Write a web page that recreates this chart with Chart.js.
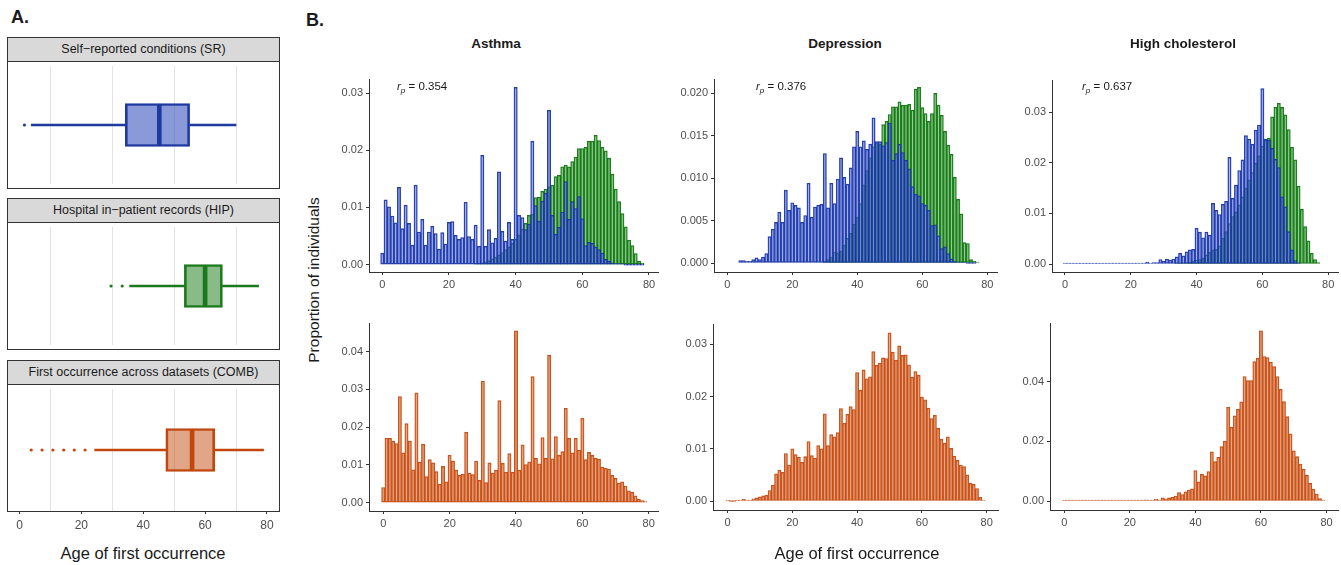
<!DOCTYPE html>
<html>
<head>
<meta charset="utf-8">
<title>Age of first occurrence</title>
<script src="https://cdn.jsdelivr.net/npm/chart.js@4.4.1/dist/chart.umd.min.js"></script>
<style>
  body { margin: 0; background: #fff; font-family: "Liberation Sans", Arial, sans-serif; color: #1a1a1a; }
  #page { position: relative; width: 1341px; height: 565px; overflow: hidden; }
  .txt { position: absolute; white-space: nowrap; line-height: 1; }
  canvas { position: absolute; }
  .strip { position: absolute; box-sizing: border-box; background: #d9d9d9; border: 1px solid #333;
           font-size: 12.5px; text-align: center; line-height: 22px; color: #1a1a1a; }
  .frame { position: absolute; box-sizing: border-box; border: 1px solid #333; pointer-events: none; }
</style>
</head>
<body>
<div id="page"></div>
<script>
// ages (one bin per year)
const ages = [
  0, 1, 2, 3, 4, 5, 6, 7, 8, 9, 10, 11, 12, 13, 14, 15, 16, 17, 18, 19,
  20, 21, 22, 23, 24, 25, 26, 27, 28, 29, 30, 31, 32, 33, 34, 35, 36, 37, 38, 39,
  40, 41, 42, 43, 44, 45, 46, 47, 48, 49, 50, 51, 52, 53, 54, 55, 56, 57, 58, 59,
  60, 61, 62, 63, 64, 65, 66, 67, 68, 69, 70, 71, 72, 73, 74, 75, 76, 77, 78, 79
];

// Asthma
const asthmaSR = [
  0.0020, 0.0113, 0.0101, 0.0085, 0.0073, 0.0135, 0.0063, 0.0104, 0.0072, 0.0034,
  0.0139, 0.0057, 0.0079, 0.0034, 0.0057, 0.0067, 0.0054, 0.0027, 0.0056, 0.0036,
  0.0074, 0.0075, 0.0051, 0.0044, 0.0047, 0.0109, 0.0049, 0.0044, 0.0069, 0.0032,
  0.0191, 0.0032, 0.0061, 0.0038, 0.0046, 0.0162, 0.0058, 0.0041, 0.0074, 0.0044,
  0.0310, 0.0086, 0.0082, 0.0061, 0.0071, 0.0216, 0.0103, 0.0076, 0.0111, 0.0125,
  0.0270, 0.0086, 0.0053, 0.0065, 0.0092, 0.0145, 0.0079, 0.0110, 0.0098, 0.0119,
  0.0080, 0.0033, 0.0039, 0.0037, 0.0031, 0.0026, 0.0020, 0.0009, 0.0006, 0.0003,
  0.0001, 0.0001, 0.0001, 0.0000, 0.0000, 0.0000, 0.0000, 0.0000, 0.0000, null
];
const asthmaHIP = [
  null, null, null, null, null, null, null, null, null, null,
  null, null, null, null, null, null, null, null, null, null,
  null, null, null, null, null, null, null, null, 0.0001, 0.0002,
  0.0003, 0.0005, 0.0007, 0.0010, 0.0013, 0.0017, 0.0021, 0.0026, 0.0031, 0.0037,
  0.0044, 0.0052, 0.0062, 0.0072, 0.0086, 0.0088, 0.0117, 0.0118, 0.0128, 0.0132,
  0.0136, 0.0139, 0.0154, 0.0156, 0.0171, 0.0174, 0.0171, 0.0180, 0.0188, 0.0203,
  0.0203, 0.0205, 0.0216, 0.0216, 0.0226, 0.0217, 0.0205, 0.0199, 0.0186, 0.0158,
  0.0132, 0.0110, 0.0089, 0.0066, 0.0043, 0.0033, 0.0019, 0.0006, 0.0002, null
];
const asthmaCOMB = [
  0.0040, 0.0171, 0.0170, 0.0163, 0.0156, 0.0281, 0.0132, 0.0209, 0.0163, 0.0087,
  0.0291, 0.0107, 0.0155, 0.0069, 0.0114, 0.0105, 0.0082, 0.0049, 0.0096, 0.0055,
  0.0126, 0.0110, 0.0086, 0.0072, 0.0075, 0.0187, 0.0078, 0.0074, 0.0110, 0.0059,
  0.0322, 0.0053, 0.0105, 0.0078, 0.0086, 0.0270, 0.0104, 0.0081, 0.0130, 0.0080,
  0.0455, 0.0086, 0.0153, 0.0101, 0.0108, 0.0334, 0.0117, 0.0103, 0.0172, 0.0117,
  0.0390, 0.0116, 0.0175, 0.0125, 0.0135, 0.0250, 0.0170, 0.0132, 0.0170, 0.0139,
  0.0224, 0.0114, 0.0133, 0.0125, 0.0117, 0.0115, 0.0094, 0.0091, 0.0089, 0.0072,
  0.0064, 0.0052, 0.0055, 0.0044, 0.0031, 0.0027, 0.0018, 0.0009, 0.0005, 0.0002
];

// Depression
const depressionSR = [
  null, null, null, null, 0.0003, 0.0003, 0.0002, 0.0002, 0.0004, 0.0006,
  0.0004, 0.0007, 0.0011, 0.0031, 0.0040, 0.0048, 0.0060, 0.0048, 0.0086, 0.0062,
  0.0071, 0.0068, 0.0065, 0.0048, 0.0056, 0.0094, 0.0054, 0.0066, 0.0068, 0.0069,
  0.0129, 0.0065, 0.0094, 0.0070, 0.0099, 0.0124, 0.0101, 0.0093, 0.0112, 0.0137,
  0.0155, 0.0137, 0.0144, 0.0134, 0.0140, 0.0171, 0.0143, 0.0143, 0.0138, 0.0142,
  0.0165, 0.0121, 0.0129, 0.0140, 0.0130, 0.0121, 0.0111, 0.0090, 0.0081, 0.0079,
  0.0070, 0.0068, 0.0062, 0.0044, 0.0045, 0.0032, 0.0017, 0.0019, 0.0011, 0.0005,
  0.0002, 0.0001, 0.0001, 0.0001, 0.0000, 0.0000, 0.0000, null, null, null
];
const depressionHIP = [
  null, null, null, null, null, null, null, null, null, null,
  null, null, null, null, null, null, null, null, null, null,
  null, null, null, null, null, null, null, null, null, null,
  0.0002, 0.0004, 0.0007, 0.0013, 0.0012, 0.0014, 0.0021, 0.0029, 0.0035, 0.0046,
  0.0054, 0.0070, 0.0092, 0.0109, 0.0124, 0.0137, 0.0142, 0.0140, 0.0163, 0.0167,
  0.0175, 0.0184, 0.0184, 0.0190, 0.0186, 0.0186, 0.0187, 0.0180, 0.0205, 0.0207,
  0.0183, 0.0176, 0.0167, 0.0176, 0.0200, 0.0186, 0.0174, 0.0155, 0.0139, 0.0128,
  0.0101, 0.0075, 0.0058, 0.0024, 0.0023, 0.0004, 0.0002, 0.0001, null, null
];
const depressionCOMB = [
  0.0001, 0.0000, 0.0000, 0.0001, 0.0001, 0.0003, 0.0002, 0.0002, 0.0004, 0.0006,
  0.0008, 0.0010, 0.0011, 0.0020, 0.0030, 0.0052, 0.0059, 0.0055, 0.0091, 0.0069,
  0.0100, 0.0089, 0.0084, 0.0074, 0.0085, 0.0114, 0.0087, 0.0082, 0.0106, 0.0100,
  0.0167, 0.0106, 0.0127, 0.0123, 0.0131, 0.0177, 0.0149, 0.0166, 0.0181, 0.0175,
  0.0246, 0.0212, 0.0251, 0.0234, 0.0238, 0.0286, 0.0260, 0.0264, 0.0274, 0.0273,
  0.0322, 0.0285, 0.0270, 0.0297, 0.0279, 0.0280, 0.0261, 0.0237, 0.0248, 0.0241,
  0.0199, 0.0194, 0.0178, 0.0158, 0.0164, 0.0139, 0.0118, 0.0111, 0.0123, 0.0101,
  0.0086, 0.0078, 0.0069, 0.0066, 0.0050, 0.0034, 0.0032, 0.0024, 0.0007, 0.0002
];

// High cholesterol
const cholSR = [
  0.0001, 0.0001, 0.0001, 0.0001, 0.0001, 0.0001, 0.0001, 0.0001, 0.0001, 0.0001,
  0.0001, 0.0001, 0.0001, 0.0001, 0.0001, 0.0001, 0.0001, 0.0001, 0.0001, 0.0001,
  0.0001, 0.0002, 0.0002, 0.0002, 0.0001, 0.0004, 0.0002, 0.0003, 0.0003, 0.0009,
  0.0006, 0.0010, 0.0008, 0.0010, 0.0014, 0.0021, 0.0016, 0.0024, 0.0028, 0.0029,
  0.0071, 0.0063, 0.0052, 0.0063, 0.0057, 0.0120, 0.0106, 0.0098, 0.0118, 0.0124,
  0.0211, 0.0130, 0.0156, 0.0185, 0.0206, 0.0254, 0.0247, 0.0237, 0.0265, 0.0275,
  0.0347, 0.0247, 0.0245, 0.0229, 0.0207, 0.0191, 0.0133, 0.0113, 0.0064, 0.0028,
  0.0007, 0.0002, null, null, null, null, null, null, null, null
];
const cholHIP = [
  null, null, null, null, null, null, null, null, null, null,
  null, null, null, null, null, null, null, null, null, null,
  null, null, null, null, null, null, null, null, null, null,
  null, null, null, null, 0.0001, 0.0001, 0.0002, 0.0003, 0.0004, 0.0006,
  0.0008, 0.0009, 0.0011, 0.0018, 0.0023, 0.0028, 0.0029, 0.0036, 0.0051, 0.0064,
  0.0080, 0.0094, 0.0103, 0.0117, 0.0133, 0.0150, 0.0166, 0.0181, 0.0199, 0.0214,
  0.0233, 0.0245, 0.0249, 0.0291, 0.0310, 0.0318, 0.0310, 0.0295, 0.0266, 0.0231,
  0.0206, 0.0154, 0.0108, 0.0074, 0.0046, 0.0021, 0.0009, 0.0003, null, null
];
const cholCOMB = [
  0.0001, 0.0001, 0.0001, 0.0001, 0.0001, 0.0001, 0.0001, 0.0001, 0.0001, 0.0001,
  0.0001, 0.0001, 0.0001, 0.0001, 0.0001, 0.0001, 0.0001, 0.0001, 0.0001, 0.0001,
  0.0002, 0.0002, 0.0002, 0.0002, 0.0003, 0.0004, 0.0003, 0.0003, 0.0006, 0.0002,
  0.0011, 0.0007, 0.0011, 0.0012, 0.0017, 0.0028, 0.0022, 0.0031, 0.0037, 0.0041,
  0.0102, 0.0064, 0.0089, 0.0084, 0.0099, 0.0165, 0.0132, 0.0146, 0.0182, 0.0201,
  0.0314, 0.0247, 0.0285, 0.0307, 0.0332, 0.0417, 0.0403, 0.0403, 0.0467, 0.0478,
  0.0570, 0.0484, 0.0480, 0.0465, 0.0450, 0.0417, 0.0374, 0.0333, 0.0283, 0.0225,
  0.0168, 0.0149, 0.0124, 0.0107, 0.0086, 0.0059, 0.0040, 0.0023, 0.0008, 0.0003
];

const diseases = ['Asthma', 'Depression', 'High cholesterol'];
const correlations = ['0.354', '0.376', '0.637'];
const histXTicks = [0, 20, 40, 60, 80];

// panel A boxplots
const boxGroups = ['Self\u2212reported conditions (SR)', 'Hospital in\u2212patient records (HIP)', 'First occurrence across datasets (COMB)'];
const boxLow = [3.8, 35.6, 24.3];
const boxQ1 = [34.2, 53.3, 47.3];
const boxMedian = [45.2, 60.0, 55.8];
const boxQ3 = [55.0, 65.6, 63.1];
const boxHigh = [70.0, 77.3, 78.9];
const boxOutliers = [[1.6], [29.6, 33.2], [3.8, 7.3, 10.8, 14.3, 17.7, 21.2]];
const boxXTicks = [0, 10, 20, 30, 40, 50, 60, 70, 80];

const SR = {line: 'rgba(25, 50, 160, 0.95)', fill: 'rgba(60, 90, 215, 0.45)', box: 'rgba(30, 60, 180, 0.52)', solid: '#1f3a9e'};
const HIP = {line: 'rgba(20, 110, 20, 0.95)', fill: 'rgba(40, 160, 40, 0.5)', box: 'rgba(20, 120, 20, 0.5)', solid: '#1b7a1b'};
const COMB = {line: 'rgba(195, 70, 12, 0.95)', fill: 'rgba(215, 110, 55, 0.6)', box: 'rgba(195, 75, 15, 0.5)', solid: '#c2470e'};
const boxStyles = [SR, HIP, COMB];

const page = document.getElementById('page');

function addText(html, x, y, size, css) {
  const d = document.createElement('div');
  d.className = 'txt';
  d.innerHTML = html;
  d.style.left = x + 'px';
  d.style.top = y + 'px';
  d.style.fontSize = size + 'px';
  Object.assign(d.style, css || {});
  page.appendChild(d);
  return d;
}

function addCanvas(left, top, w, h) {
  const c = document.createElement('canvas');
  c.width = w;
  c.height = h;
  c.style.left = left + 'px';
  c.style.top = top + 'px';
  c.style.width = w + 'px';
  c.style.height = h + 'px';
  page.appendChild(c);
  return c;
}

// ---------- panel B: histograms ----------
const PAD_T = 10, PAD_R = 12, AXIS_W = 44, AXIS_H = 24;

function histogram(p) {
  const canvas = addCanvas(p.left - AXIS_W, p.top - PAD_T,
    p.right - p.left + AXIS_W + PAD_R, p.bottom - p.top + PAD_T + AXIS_H);
  new Chart(canvas, {
    type: 'bar',
    data: {
      datasets: p.series.map(s => ({
        data: ages.map((a, i) => ({x: a, y: s.values[i]})).filter(d => d.y !== null),
        backgroundColor: s.style.fill,
        borderColor: s.style.line,
        borderWidth: 0.8,
        borderSkipped: false,
        minBarLength: 1,
        grouped: false,
        barPercentage: 1,
        categoryPercentage: 1
      }))
    },
    options: {
      responsive: false,
      animation: false,
      devicePixelRatio: 1,
      layout: {padding: {top: PAD_T, right: PAD_R, left: 0, bottom: 0}},
      plugins: {legend: {display: false}, tooltip: {enabled: false}},
      scales: {
        x: {
          type: 'linear', min: p.xMin, max: p.xMax, offset: false,
          afterBuildTicks: s => { s.ticks = histXTicks.map(v => ({value: v})); },
          afterFit: s => { s.height = AXIS_H; },
          ticks: {color: '#4d4d4d', font: {size: 11}, padding: 3, maxRotation: 0, autoSkip: false},
          grid: {offset: false, drawOnChartArea: false, tickLength: 3, tickColor: '#333'},
          border: {color: '#333', width: 1}
        },
        y: {
          type: 'linear', min: p.yMin, max: p.yMax,
          afterBuildTicks: s => { s.ticks = p.yTicks.map(v => ({value: v})); },
          afterFit: s => { s.width = AXIS_W; },
          ticks: {color: '#4d4d4d', font: {size: 11}, padding: 3, autoSkip: false,
                  callback: v => Number(v).toFixed(p.dec)},
          grid: {drawOnChartArea: false, tickLength: 3, tickColor: '#333'},
          border: {color: '#333', width: 1}
        }
      }
    }
  });
}

const histPanels = [
  {left: 369, top: 79, right: 658, bottom: 272, xMin: -3.99, xMax: 82.7, yMin: -0.0013, yMax: 0.03245,
   yTicks: [0, 0.01, 0.02, 0.03], dec: 2,
   series: [{values: asthmaSR, style: SR}, {values: asthmaHIP, style: HIP}]},
  {left: 714, top: 79, right: 997, bottom: 272, xMin: -4.1, xMax: 83.0, yMin: -0.00106, yMax: 0.02168,
   yTicks: [0, 0.005, 0.01, 0.015, 0.02], dec: 3,
   series: [{values: depressionSR, style: SR}, {values: depressionHIP, style: HIP}]},
  {left: 1052, top: 80, right: 1338, bottom: 272, xMin: -3.95, xMax: 83.0, yMin: -0.00158, yMax: 0.0364,
   yTicks: [0, 0.01, 0.02, 0.03], dec: 2,
   series: [{values: cholSR, style: SR}, {values: cholHIP, style: HIP}]},
  {left: 369, top: 323, right: 658, bottom: 511, xMin: -4.3, xMax: 82.8, yMin: -0.00223, yMax: 0.04758,
   yTicks: [0, 0.01, 0.02, 0.03, 0.04], dec: 2,
   series: [{values: asthmaCOMB, style: COMB}]},
  {left: 713, top: 324, right: 998, bottom: 510, xMin: -4.5, xMax: 83.5, yMin: -0.00172, yMax: 0.0339,
   yTicks: [0, 0.01, 0.02, 0.03], dec: 2,
   series: [{values: depressionCOMB, style: COMB}]},
  {left: 1050, top: 323, right: 1338, bottom: 510, xMin: -4.36, xMax: 83.5, yMin: -0.003, yMax: 0.0596,
   yTicks: [0, 0.02, 0.04], dec: 2,
   series: [{values: cholCOMB, style: COMB}]}
];
histPanels.forEach(histogram);

// ---------- panel A: boxplots ----------
const stripTops = [37, 198, 360];
const STRIP_H = 24, PANEL_H = 128, A_LEFT = 7, A_W = 273, A_AXIS = 24;

function boxplot(i) {
  const st = boxStyles[i];
  const top = stripTops[i];
  const last = i === boxGroups.length - 1;

  const strip = document.createElement('div');
  strip.className = 'strip';
  strip.textContent = boxGroups[i];
  Object.assign(strip.style, {left: A_LEFT + 'px', top: top + 'px', width: A_W + 'px', height: (STRIP_H + 1) + 'px'});
  page.appendChild(strip);

  const canvas = addCanvas(A_LEFT + 1, top + STRIP_H + 1, A_W - 2, PANEL_H - 2 + (last ? A_AXIS : 0));
  const cat = boxGroups[i];
  const half = {backgroundColor: st.box, borderColor: st.solid, borderWidth: 2, borderSkipped: false,
                barThickness: 43, grouped: false};
  const whisker = {backgroundColor: st.solid, borderWidth: 0, barThickness: 2, grouped: false};
  new Chart(canvas, {
    type: 'bar',
    data: {
      labels: [cat],
      datasets: [
        Object.assign({data: [[boxQ1[i], boxMedian[i]]]}, half),
        Object.assign({data: [[boxMedian[i], boxQ3[i]]]}, half),
        Object.assign({data: [[boxLow[i], boxQ1[i]]]}, whisker),
        Object.assign({data: [[boxQ3[i], boxHigh[i]]]}, whisker),
        {type: 'scatter', data: boxOutliers[i].map(v => ({x: v, y: cat})),
         pointRadius: 1.6, backgroundColor: st.solid, borderWidth: 0}
      ]
    },
    options: {
      indexAxis: 'y',
      responsive: false,
      animation: false,
      devicePixelRatio: 1,
      layout: {padding: 0},
      plugins: {legend: {display: false}, tooltip: {enabled: false}},
      scales: {
        y: {display: false},
        x: {
          type: 'linear', min: -2.42, max: 82.6,
          afterBuildTicks: s => { s.ticks = boxXTicks.map(v => ({value: v})); },
          afterFit: s => { s.height = last ? A_AXIS : 0; },
          ticks: {display: last, color: '#4d4d4d', font: {size: 12}, padding: 4, maxRotation: 0, autoSkip: false,
                  callback: v => (v % 20 === 0 ? v : '')},
          grid: {
            color: ctx => (ctx.tick && ctx.tick.value % 20 === 10 ? '#e3e3e3' : 'rgba(0,0,0,0)'),
            drawTicks: last, tickLength: 3,
            tickColor: ctx => (ctx.tick && ctx.tick.value % 20 === 0 ? '#333' : 'rgba(0,0,0,0)')
          },
          border: {display: false}
        }
      }
    }
  });

  const frame = document.createElement('div');
  frame.className = 'frame';
  Object.assign(frame.style, {left: A_LEFT + 'px', top: (top + STRIP_H) + 'px', width: A_W + 'px', height: PANEL_H + 'px'});
  page.appendChild(frame);
}
boxGroups.forEach((g, i) => boxplot(i));

// ---------- labels ----------
addText('A.', 11, 17, 18, {fontWeight: 'bold', transform: 'translate(0,-50%)'});
addText('B.', 306, 20, 18, {fontWeight: 'bold', transform: 'translate(0,-50%)'});
const titleX = [496, 845, 1183];
diseases.forEach((d, i) => addText(d, titleX[i], 44, 13.5, {fontWeight: 'bold', transform: 'translate(-50%,-50%)'}));
const rpX = [397, 756, 1082];
correlations.forEach((r, i) => addText('<i>r</i><sub style="font-size:8px;font-style:italic;vertical-align:-3px">p</sub> = ' + r,
  rpX[i], 88, 11.5, {transform: 'translate(0,-50%)'}));
addText('Proportion of individuals', 314, 280, 15.5, {transform: 'translate(-50%,-50%) rotate(-90deg)'});
addText('Age of first occurrence', 857, 553, 16.5, {transform: 'translate(-50%,-50%)'});
addText('Age of first occurrence', 143, 553, 16.5, {transform: 'translate(-50%,-50%)'});
</script>
</body>
</html>
